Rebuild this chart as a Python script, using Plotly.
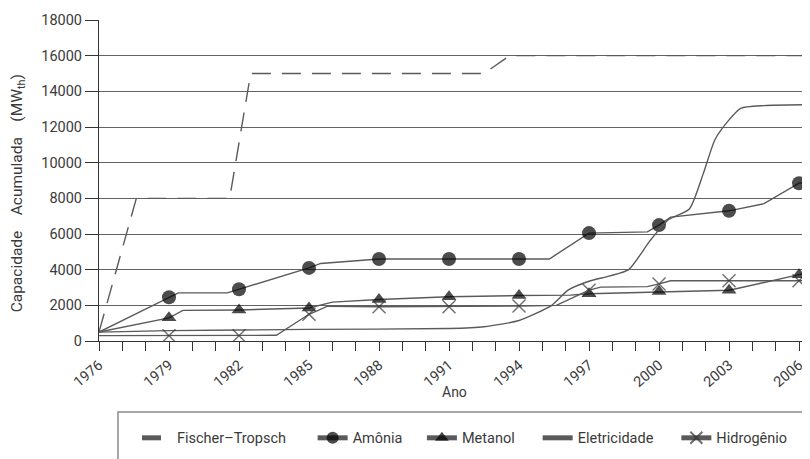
import plotly.graph_objects as go

# ---------------- data ----------------
tick_years = [1976, 1979, 1982, 1985, 1988, 1991, 1994, 1997, 2000, 2003, 2006]
marker_years = [1979, 1982, 1985, 1988, 1991, 1994, 1997, 2000, 2003, 2006]
y_ticks = [0, 2000, 4000, 6000, 8000, 10000, 12000, 14000, 16000, 18000]

ft_x = [1976, 1977.6, 1981.6, 1982.5, 1992.5, 1993.6, 2006.5]
ft_y = [500, 8000, 8000, 15000, 15000, 16000, 16000]

amonia_x = [1976, 1979, 1979.4, 1981.5, 1982, 1985, 1985.5, 1988, 1991, 1994,
            1995.3, 1997, 1999.5, 2000, 2000.5, 2003, 2004.5, 2006, 2006.5]
amonia_y = [500, 2450, 2700, 2700, 2900, 4100, 4350, 4600, 4600, 4600,
            4600, 6050, 6120, 6500, 6950, 7300, 7700, 8850, 8950]

metanol_x = [1976, 1979, 1979.6, 1982, 1985, 1986, 1988, 1991, 1994, 1996.2,
             1997, 2000, 2003, 2003.4, 2006, 2006.5]
metanol_y = [500, 1300, 1720, 1740, 1850, 2180, 2330, 2480, 2550, 2570,
             2650, 2770, 2850, 2960, 3720, 3800]

elet_x = [1976, 1979, 1985, 1991, 1992.5, 1994, 1995.4, 1996.1, 1997, 1997.9,
          1998.7, 1999.6, 2000.4, 2001.3, 2001.9, 2002.4, 2003, 2003.5, 2004.5, 2006.5]
elet_y = [500, 580, 650, 700, 800, 1150, 2000, 2850, 3350, 3650,
          4000, 5600, 6800, 7400, 9400, 11300, 12400, 13050, 13200, 13250]

hidro_x = [1976, 1979, 1982, 1983.6, 1985, 1985.8, 1988, 1991, 1994, 1995.6,
           1997, 1997.5, 1999.5, 2000, 2000.5, 2003, 2006, 2006.5]
hidro_y = [300, 300, 300, 320, 1500, 1950, 1920, 1920, 1960, 2000,
           2850, 3020, 3050, 3200, 3380, 3380, 3380, 3380]

names = ["Fischer\u2013Tropsch", "Amônia", "Metanol", "Eletricidade", "Hidrogênio"]
x_title = "Ano"
y_title = "Capacidade\u00a0\u00a0\u00a0\u00a0Acumulada\u00a0\u00a0\u00a0\u00a0(MW<sub>th</sub>)"

# ---------------- style ----------------
FONT = "Roboto, Lato, sans-serif"
LINE = "#5a5a5a"
MARK = "#000000"
GRID = "#626262"
TXT = "#3a3a3a"
NB = "\u00a0"
pads = [6, 4, 5, 5, 0]
labels = [n + NB * p for n, p in zip(names, pads)]


def sizes(xs, s):
    return [s if x in marker_years else 0 for x in xs]


fig = go.Figure()
fig.add_trace(go.Scatter(x=ft_x, y=ft_y, name=labels[0], mode="lines",
                         line=dict(color=LINE, width=1.4, dash="19px,11px")))
fig.add_trace(go.Scatter(x=amonia_x, y=amonia_y, name=labels[1], mode="lines+markers",
                         line=dict(color=LINE, width=1.4),
                         marker=dict(symbol="circle", color=MARK, size=sizes(amonia_x, 14),
                                     line=dict(width=0))))
fig.add_trace(go.Scatter(x=metanol_x, y=metanol_y, name=labels[2], mode="lines+markers",
                         line=dict(color=LINE, width=1.4),
                         marker=dict(symbol="triangle-up", color=MARK, size=sizes(metanol_x, 13),
                                     line=dict(width=0))))
fig.add_trace(go.Scatter(x=elet_x, y=elet_y, name=labels[3], mode="lines",
                         line=dict(color=LINE, width=1.4, shape="spline", smoothing=0.6)))
fig.add_trace(go.Scatter(x=hidro_x, y=hidro_y, name=labels[4], mode="lines+markers",
                         line=dict(color=LINE, width=1.4),
                         marker=dict(symbol="x-thin", color="#333", size=sizes(hidro_x, 13),
                                     line=dict(width=1.4, color="#333"))))

# the page body adds an 8 px offset, so the figure is 8 px smaller than the window
fig.update_layout(
    width=802, height=451,
    margin=dict(l=91, r=0, t=12, b=118),
    paper_bgcolor="white", plot_bgcolor="white",
    font=dict(family=FONT, color=TXT, size=14.5),
    showlegend=True,
    legend=dict(orientation="h", x=0.0534, xanchor="left", y=-0.252, yanchor="top",
                borderwidth=0, itemsizing="constant",
                font=dict(size=14.5, family=FONT, color=TXT), traceorder="normal",
                itemwidth=30, tracegroupgap=0, bgcolor="rgba(0,0,0,0)"),
    shapes=[dict(type="rect", xref="paper", yref="paper",
                 x0=0.0267, x1=1.05, y0=-0.2212, y1=-0.42,
                 line=dict(color="#8a8a8a", width=1.5), fillcolor="rgba(0,0,0,0)")],
    annotations=[
        dict(text=y_title, xref="paper", yref="paper", x=-0.1139, y=0.46,
             xanchor="center", yanchor="middle", textangle=-90, showarrow=False,
             font=dict(size=15.5, family=FONT, color=TXT)),
        dict(text=x_title, xref="paper", yref="paper", x=0.5, y=-0.159,
             xanchor="center", yanchor="middle", showarrow=False,
             font=dict(size=14, family=FONT, color=TXT)),
    ],
)

fig.update_xaxes(
    range=[1976, 2006.47], tickmode="array", tickvals=tick_years,
    ticktext=[str(t) for t in tick_years], tickangle=-40, automargin=False,
    ticks="outside", ticklen=9, tickwidth=1.2, tickcolor="#333",
    minor=dict(dtick=1, ticks="outside", ticklen=9, tickwidth=1.2, tickcolor="#333", showgrid=False),
    showgrid=False, zeroline=False, showline=True, linecolor="#333", linewidth=1.2,
    tickfont=dict(size=14.5, family=FONT, color=TXT),
)
fig.update_yaxes(
    range=[0, 18000], tickmode="array", tickvals=y_ticks, automargin=False,
    ticktext=[str(t) for t in y_ticks],
    ticks="outside", ticklen=13, tickwidth=1.2, tickcolor="#333",
    showgrid=True, gridcolor=GRID, gridwidth=1.2,
    zeroline=False, showline=True, linecolor="#333", linewidth=1.2,
    tickfont=dict(size=14.5, family=FONT, color=TXT), ticklabelstandoff=0,
)

fig.write_html("out.html")
